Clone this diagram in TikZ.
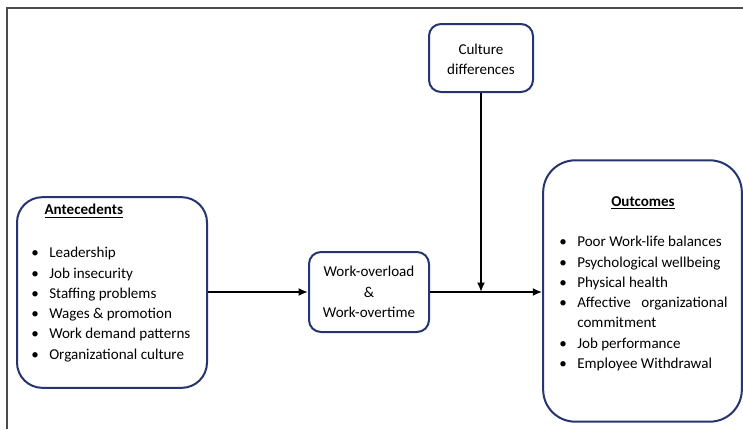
\documentclass[tikz,border=0pt]{standalone}
\usepackage{fontspec}
\setmainfont{Carlito}
\usetikzlibrary{arrows.meta}
\definecolor{navy}{RGB}{38,52,112}
\newcommand{\bl}[1]{\makebox[13.5pt][l]{\textbullet}#1}
\tikzset{
  box/.style={draw=navy, line width=1.5pt, fill=white, inner sep=0pt},
  txt/.style={font=\fontsize{11.3}{15.2}\selectfont, inner sep=0pt},
  conn/.style={line width=1.5pt, -{Latex[length=7pt,width=6pt]}},
}
\begin{document}
\begin{tikzpicture}[x=0.75pt,y=-0.75pt]
\useasboundingbox (0,0) rectangle (743,429);
% frame
\draw[line width=1.6pt, black!70] (7,429) -- (7,8) -- (743,8);
% boxes
\node[box, rounded corners=19pt, minimum width=142.5pt, minimum height=143pt] (ante) at (112,292.5) {};
\node[box, rounded corners=9pt, minimum width=90pt, minimum height=60pt] (work) at (369,292) {};
\node[box, rounded corners=9pt, minimum width=78pt, minimum height=51pt] (cult) at (481,58) {};
\node[box, rounded corners=24pt, minimum width=149pt, minimum height=196pt] (out) at (642.5,291) {};
% texts
\node[txt, anchor=north west, align=left] (antet) at (31,204) {%
\hspace{10pt}\textbf{\underline{Antecedents}}\\[17pt]
\bl{Leadership}\\
\bl{Job insecurity}\\
\bl{Staffing problems}\\
\bl{Wages \& promotion}\\
\bl{Work demand patterns}\\
\bl{Organizational culture}};
\node[txt, align=center] (workt) at (369,292) {Work-overload\\\&\\Work-overtime};
\node[txt, align=center] (cultt) at (481,59) {Culture\\differences};
\node[txt, anchor=north, align=center] (outt) at (643,196) {\textbf{\underline{Outcomes}}};
\node[txt, anchor=north west, align=left] (outl) at (559,236) {%
\bl{Poor Work-life balances}\\
\bl{Psychological wellbeing}\\
\bl{Physical health}\\
\bl{Affective\hspace{0.7em}organizational}\\
\hspace{13.5pt}commitment\\
\bl{Job performance}\\
\bl{Employee Withdrawal}};
% connectors
\draw[conn] (work.west -| ante.east) -- (work.west);
\draw[conn] (work.east) -- (work.east -| out.west);
\coordinate (join) at (cult.south |- work.east);
\draw[conn] (cult.south) -- (join);
\end{tikzpicture}
\end{document}
